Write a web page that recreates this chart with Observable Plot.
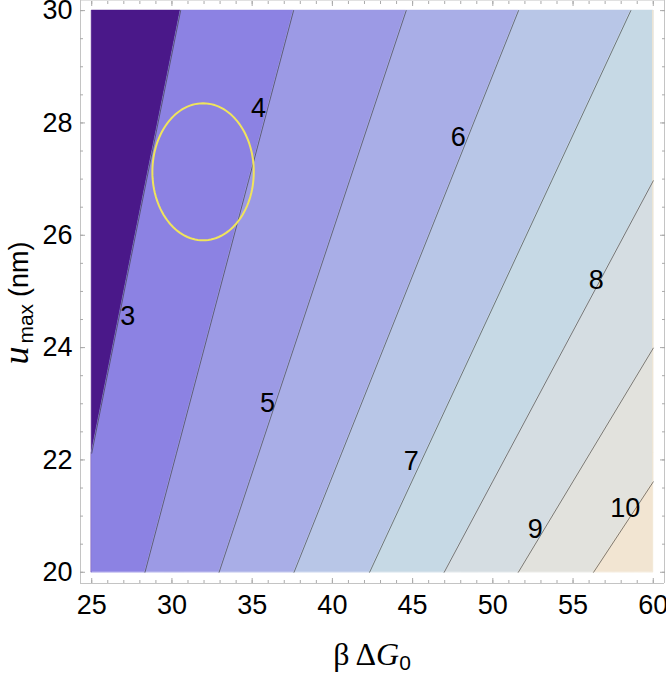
<!DOCTYPE html>
<html><head><meta charset="utf-8">
<script src="https://cdn.jsdelivr.net/npm/d3@7"></script>
<script src="https://cdn.jsdelivr.net/npm/@observablehq/plot@0.6"></script>
<style>
body{margin:0;background:#fff;}
#chart{width:666px;height:674px;}
</style></head><body><div id="chart"></div>
<script>
// contour levels and the two readable points of each (straight) contour line
const levels = [3, 4, 5, 6, 7, 8, 9, 10];
const lineStartX = [25, 28.32, 32.94, 37.61, 42.32, 46.97, 51.59, 56.28];
const lineStartY = [22.12, 20, 20, 20, 20, 20, 20, 20];
const lineEndX = [30.54, 37.58, 44.6, 51.6, 58.6, 60, 60, 60];
const lineEndY = [30, 30, 30, 30, 30, 26.97, 23.99, 21.61];
// band fill colours, from the lowest band (<3) to the highest (>10)
const bandColors = ["#4a1889", "#8c82e3", "#9c9ae5", "#a9aee7", "#b8c6e7", "#c6d9e5", "#d5dde2", "#e2e2dd", "#f2e5d2"];
// contour labels
const labelText = ["3", "4", "5", "6", "7", "8", "9", "10"];
const labelX = [27.24, 35.40, 35.96, 47.85, 44.92, 56.44, 52.65, 58.25];
const labelY = [24.56, 28.26, 23.01, 27.74, 21.97, 25.20, 20.77, 21.14];
// ticks
const xTicks = [25, 30, 35, 40, 45, 50, 55, 60];
const yTicks = [20, 22, 24, 26, 28, 30];
const xMinorTicks = d3.range(25, 60.01, 1);
const yMinorTicks = d3.range(20, 30.01, 0.5);
// yellow ellipse
const ellipseCenter = [31.94, 27.13];
const ellipseRadii = [3.16, 1.22];
const xRange = [25, 60], yRange = [20, 30];

const lineX = (k, y) => lineStartX[k] + (y - lineStartY[k]) * (lineEndX[k] - lineStartX[k]) / (lineEndY[k] - lineStartY[k]);
const yAtX = (k, x) => lineStartY[k] + (x - lineStartX[k]) * (lineEndY[k] - lineStartY[k]) / (lineEndX[k] - lineStartX[k]);
let ys = [yRange[0], yRange[1]];
levels.forEach((_, k) => { for (const xb of xRange) { const y = yAtX(k, xb); if (y > yRange[0] && y < yRange[1]) ys.push(y); } });
ys = Array.from(new Set(ys)).sort((a, b) => a - b);
const clampX = x => Math.max(xRange[0], Math.min(xRange[1], x));
const n = levels.length;
const bandRows = [];
for (let b = 0; b <= n; b++) for (const y of ys) bandRows.push({
  band: b, y,
  x1: b === 0 ? xRange[0] : clampX(lineX(b - 1, y)),
  x2: b === n ? xRange[1] : clampX(lineX(b, y))
});
const lineRows = [];
levels.forEach((lv, k) => ys.forEach(y => { const x = lineX(k, y); if (x >= xRange[0] - 1e-9 && x <= xRange[1] + 1e-9) lineRows.push({level: lv, x, y}); }));
const labelRows = labelText.map((t, i) => ({t, x: labelX[i], y: labelY[i]}));
const ellipseRows = d3.range(0, 121).map(i => { const a = i / 120 * 2 * Math.PI; return {x: ellipseCenter[0] + ellipseRadii[0] * Math.cos(a), y: ellipseCenter[1] + ellipseRadii[1] * Math.sin(a)}; });

const tickColor = "#aaaaaa";
const frameColor = "#c4c4c4";
const sans = "'Liberation Sans', Arial, sans-serif";

const svg = Plot.plot({
  width: 666, height: 674,
  marginLeft: 80, marginRight: 2, marginTop: 0, marginBottom: 91,
  style: {fontFamily: sans, fontSize: "27px", background: "white", color: "black"},
  x: {domain: [24.3, 60.7]},
  y: {domain: [19.8, 30.18]},
  marks: [
    ...bandColors.map((c, b) => Plot.areaX(bandRows.filter(r => r.band === b), {y: "y", x1: "x1", x2: "x2", fill: c, stroke: c, strokeWidth: 0.6})),
    Plot.line(lineRows, {x: "x", y: "y", z: "level", stroke: "#3a3a3a", strokeOpacity: 0.7, strokeWidth: 0.9}),
    Plot.line(ellipseRows, {x: "x", y: "y", stroke: "#f0e45c", strokeWidth: 2}),
    Plot.text(labelRows, {x: "x", y: "y", text: "t", fill: "black", fontSize: 27}),
    Plot.ruleX([24.3], {stroke: frameColor}),
    Plot.ruleX([60.7], {stroke: frameColor}),
    Plot.ruleY([19.8], {stroke: frameColor}),
    Plot.ruleY([30.18], {stroke: frameColor, strokeOpacity: 0.5}),
    // inward ticks
    Plot.axisX(xMinorTicks, {anchor: "bottom", tickSize: -3, stroke: tickColor, fill: "none", label: null}),
    Plot.axisX(xTicks, {anchor: "bottom", tickSize: -5, stroke: tickColor, fill: "none", label: null}),
    Plot.axisX(xMinorTicks, {anchor: "top", tickSize: -3, stroke: tickColor, fill: "none", label: null}),
    Plot.axisX(xTicks, {anchor: "top", tickSize: -5, stroke: tickColor, fill: "none", label: null}),
    Plot.axisY(yMinorTicks, {anchor: "left", tickSize: -3, stroke: tickColor, fill: "none", label: null}),
    Plot.axisY(yTicks, {anchor: "left", tickSize: -5, stroke: tickColor, fill: "none", label: null}),
    Plot.axisY(yMinorTicks, {anchor: "right", tickSize: -3, stroke: tickColor, fill: "none", label: null}),
    Plot.axisY(yTicks, {anchor: "right", tickSize: -5, stroke: tickColor, fill: "none", label: null}),
    // tick labels
    Plot.axisX(xTicks, {anchor: "bottom", tickSize: 0, tickPadding: 11, label: null, fill: "black", fontSize: 27, tickFormat: d3.format("d")}),
    Plot.axisY(yTicks, {anchor: "left", tickSize: 0, tickPadding: 8, label: null, fill: "black", fontSize: 27, tickFormat: d3.format("d")})
  ]
});
document.getElementById("chart").appendChild(svg);

const s = d3.select(svg);
// y axis label: u_max (nm)
const yl = s.append("text")
  .attr("transform", "translate(28,303) rotate(-90)")
  .attr("text-anchor", "middle")
  .attr("fill", "black")
  .style("font-family", sans).style("font-size", "27px");
yl.append("tspan").style("font-family", "'Liberation Serif', 'Times New Roman', serif").style("font-style", "italic").style("font-size", "36px").text("u");
yl.append("tspan").attr("dx", 3).attr("dy", 5).style("font-size", "21px").text("max");
yl.append("tspan").attr("dx", 7).attr("dy", -5).text("(nm)");

// x axis label: β ΔG0
const xl = s.append("text")
  .attr("x", 372).attr("y", 665)
  .attr("text-anchor", "middle")
  .attr("fill", "black")
  .style("font-family", "'Liberation Serif', 'Times New Roman', serif").style("font-size", "32px");
xl.append("tspan").text("β");
xl.append("tspan").attr("dx", 6).text("Δ");
xl.append("tspan").style("font-style", "italic").text("G");
xl.append("tspan").attr("dy", 5).style("font-family", sans).style("font-size", "21px").text("0");
</script></body></html>
